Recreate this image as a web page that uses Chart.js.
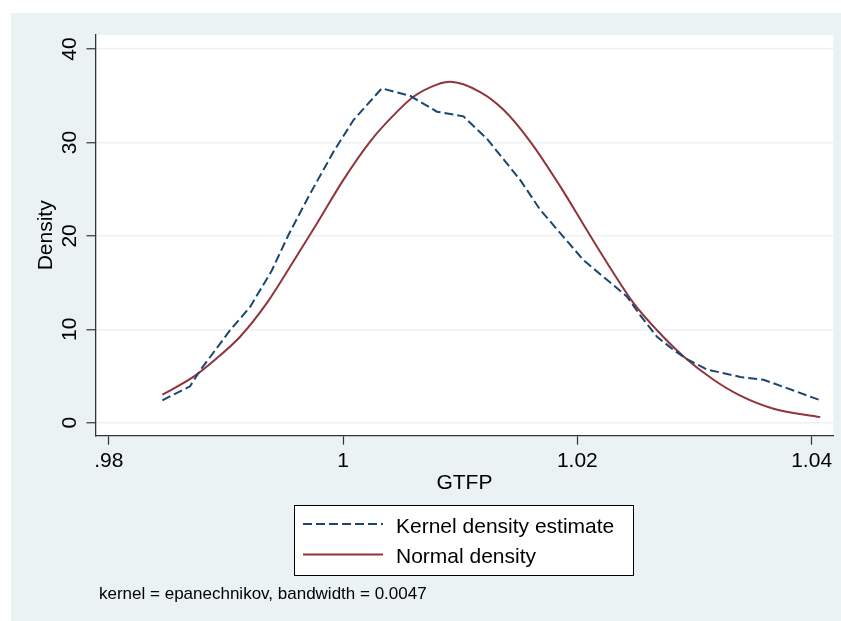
<!DOCTYPE html>
<html>
<head>
<meta charset="utf-8">
<script src="https://cdn.jsdelivr.net/npm/chart.js@4/dist/chart.umd.min.js"></script>
<style>
  html, body { margin: 0; padding: 0; background: #fff; }
  #wrap { width: 841px; height: 621px; }
</style>
</head>
<body>
<div id="wrap"><canvas id="kdens" width="841" height="621"></canvas></div>
<script>
// kernel density estimate
const kernelX = [0.98458, 0.98694, 0.98780, 0.99036, 0.99207, 0.99392, 0.99534, 0.99705, 0.99918, 1.00089,
  1.00331, 1.00573, 1.00801, 1.01028, 1.01228, 1.01512, 1.01683, 1.01854, 1.02053, 1.02253,
  1.02424, 1.02537, 1.02680, 1.02821, 1.02936, 1.03107, 1.03391, 1.03590, 1.03790, 1.04074];
const kernelY = [2.4, 3.9, 5.6, 9.9, 12.4, 16.3, 20.1, 24.2, 29.0, 32.4,
  35.8, 35.0, 33.3, 32.8, 30.4, 26.0, 22.8, 20.3, 17.4, 15.3,
  13.5, 11.5, 9.2, 7.8, 6.8, 5.7, 4.9, 4.6, 3.7, 2.4];

// normal density
const normalX = [0.98458, 0.98722, 0.98922, 0.99121, 0.99349, 0.99548, 0.99776, 1.00003, 1.00231, 1.00430,
  1.00601, 1.00801, 1.00915, 1.01171, 1.01370, 1.01598, 1.01854, 1.02082, 1.02295, 1.02480,
  1.02680, 1.02907, 1.03163, 1.03391, 1.03675, 1.04074];
const normalY = [3.0, 4.9, 6.9, 9.2, 12.8, 16.7, 21.3, 26.0, 30.1, 32.9,
  34.9, 36.2, 36.5, 35.4, 33.5, 30.1, 25.3, 20.6, 16.3, 12.8,
  9.9, 7.1, 4.6, 2.9, 1.5, 0.6];

const xTicks = [0.98, 1, 1.02, 1.04];
const xTickLabels = [".98", "1", "1.02", "1.04"];
const yTicks = [0, 10, 20, 30, 40];
const seriesNames = ["Kernel density estimate", "Normal density"];
const noteText = "kernel = epanechnikov, bandwidth = 0.0047";

const FONT = "'Liberation Sans', Arial, sans-serif";
const NAVY = "#1a476f";
const MAROON = "#90353b";
const PANEL = "#eaf2f3";

function pts(xs, ys) {
  return xs.map((x, i) => ({ x: x, y: ys[i] }));
}

// backgrounds, legend box and note
const stataLook = {
  id: "stataLook",
  beforeDraw(chart) {
    const c = chart.ctx, a = chart.chartArea;
    c.save();
    c.fillStyle = "#fff";
    c.fillRect(0, 0, chart.width, chart.height);
    c.fillStyle = PANEL;
    c.fillRect(11, 13, chart.width - 11, chart.height - 13);
    c.fillStyle = "#fff";
    c.fillRect(a.left, a.top, a.right - a.left, a.bottom - a.top);
    c.restore();
  },
  afterDraw(chart) {
    const c = chart.ctx;
    c.save();
    // legend
    c.fillStyle = "#fff";
    c.fillRect(294.5, 505.5, 339, 70);
    c.strokeStyle = "#000";
    c.lineWidth = 1;
    c.strokeRect(294.5, 505.5, 339, 70);

    c.lineWidth = 2;
    c.strokeStyle = NAVY;
    c.setLineDash([9, 4]);
    c.beginPath(); c.moveTo(303, 524); c.lineTo(383, 524); c.stroke();
    c.setLineDash([]);
    c.strokeStyle = MAROON;
    c.beginPath(); c.moveTo(303, 554.5); c.lineTo(383, 554.5); c.stroke();

    c.fillStyle = "#000";
    c.font = "21px " + FONT;
    c.textBaseline = "alphabetic";
    c.textAlign = "left";
    c.fillText(seriesNames[0], 396, 533);
    c.fillText(seriesNames[1], 396, 563);

    // note
    c.font = "17px " + FONT;
    c.fillText(noteText, 99, 599);
    c.restore();
  }
};

const ctx = document.getElementById("kdens");
const chart = new Chart(ctx, {
  type: "line",
  data: {
    datasets: [
      {
        label: seriesNames[0],
        data: pts(kernelX, kernelY),
        borderColor: NAVY,
        borderWidth: 2,
        borderDash: [9, 4],
        pointRadius: 0,
        tension: 0,
        fill: false
      },
      {
        label: seriesNames[1],
        data: pts(normalX, normalY),
        borderColor: MAROON,
        borderWidth: 2,
        pointRadius: 0,
        cubicInterpolationMode: "monotone",
        fill: false
      }
    ]
  },
  options: {
    responsive: false,
    animation: false,
    layout: { padding: { left: 0, top: 35, right: 7.7, bottom: 125.3 } },
    plugins: {
      legend: { display: false },
      tooltip: { enabled: false }
    },
    scales: {
      x: {
        type: "linear",
        min: 0.97887,
        max: 1.04185,
        afterBuildTicks: (s) => { s.ticks = xTicks.map(v => ({ value: v })); },
        afterFit: (s) => { s.height = 60; },
        ticks: {
          color: "#000",
          font: { family: FONT, size: 21 },
          padding: 4,
          maxRotation: 0,
          callback: (v) => {
            const i = xTicks.findIndex(t => Math.abs(t - v) < 1e-9);
            return i >= 0 ? xTickLabels[i] : "";
          }
        },
        grid: {
          drawOnChartArea: false,
          drawTicks: true,
          tickLength: 9,
          tickColor: "#333",
          tickWidth: 1.2
        },
        border: { display: true, color: "#333", width: 1.3 },
        title: {
          display: true,
          text: "GTFP",
          color: "#000",
          font: { family: FONT, size: 21 },
          padding: 0
        }
      },
      y: {
        min: -1.39,
        max: 41.51,
        afterBuildTicks: (s) => { s.ticks = yTicks.map(v => ({ value: v })); },
        afterFit: (s) => { s.width = 95.5; },
        ticks: {
          color: "#000",
          font: { family: FONT, size: 21 },
          minRotation: 90,
          maxRotation: 90,
          crossAlign: "center",
          padding: 5
        },
        grid: {
          color: PANEL,
          lineWidth: 1.5,
          tickLength: 9,
          tickColor: "#333",
          tickWidth: 1.2
        },
        border: { display: true, color: "#333", width: 1.3 },
        title: {
          display: true,
          text: "Density",
          color: "#000",
          font: { family: FONT, size: 21 },
          padding: { top: 34, bottom: 0 }
        }
      }
    }
  },
  plugins: [stataLook]
});
</script>
</body>
</html>
